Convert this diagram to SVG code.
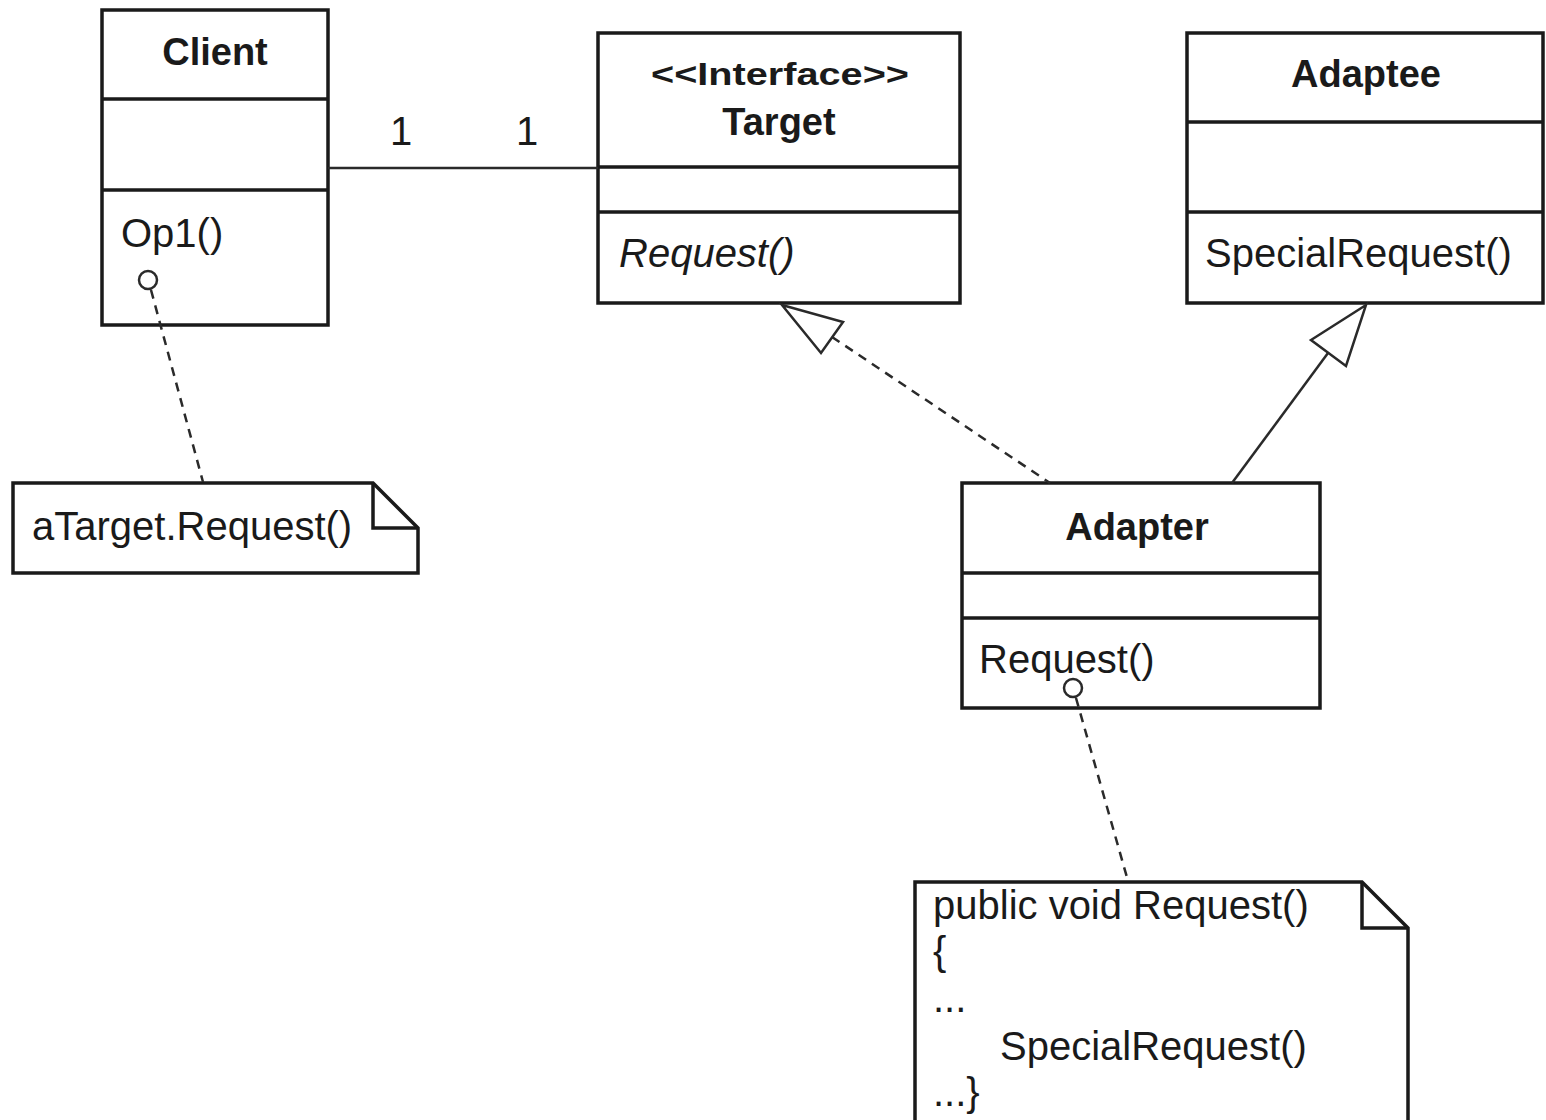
<svg xmlns="http://www.w3.org/2000/svg" width="1546" height="1120" viewBox="0 0 1546 1120">
<style>
.box{fill:#fff;stroke:#1a1a1a;stroke-width:3.5}
.ln{stroke:#1a1a1a;stroke-width:3.5;fill:none}
.t{font-family:"Liberation Sans",Arial,sans-serif;font-size:40px;fill:#1a1a1a}
.b{font-weight:bold;text-anchor:middle;font-size:38px}
.i{font-style:italic}
.c{stroke:#2a2a2a;stroke-width:2.5;fill:none}
.d{stroke-dasharray:9 7}
.pin{fill:#fff;stroke:#2a2a2a;stroke-width:2.5}
.tri{fill:#fff;stroke:#2a2a2a;stroke-width:2.5}
</style>
<rect width="1546" height="1120" fill="#fff"/>
<g id="client">
<rect class="box" x="102" y="10" width="226" height="315"/>
<line class="ln" x1="102" y1="99" x2="328" y2="99"/>
<line class="ln" x1="102" y1="190" x2="328" y2="190"/>
<text class="t b" x="215" y="65">Client</text>
<text class="t" x="121" y="247">Op1()</text>
</g>
<g id="target">
<rect class="box" x="598" y="33" width="362" height="270"/>
<line class="ln" x1="598" y1="167" x2="960" y2="167"/>
<line class="ln" x1="598" y1="212" x2="960" y2="212"/>
<text class="t b" x="780" y="85" style="font-size:32px" textLength="258" lengthAdjust="spacingAndGlyphs">&lt;&lt;Interface&gt;&gt;</text>
<text class="t b" x="779" y="135">Target</text>
<text class="t i" x="619" y="267">Request()</text>
</g>
<g id="adaptee">
<rect class="box" x="1187" y="33" width="356" height="270"/>
<line class="ln" x1="1187" y1="122" x2="1543" y2="122"/>
<line class="ln" x1="1187" y1="212" x2="1543" y2="212"/>
<text class="t b" x="1366" y="87">Adaptee</text>
<text class="t" x="1205" y="267">SpecialRequest()</text>
</g>
<g id="adapter">
<rect class="box" x="962" y="483" width="358" height="225"/>
<line class="ln" x1="962" y1="573" x2="1320" y2="573"/>
<line class="ln" x1="962" y1="618" x2="1320" y2="618"/>
<text class="t b" x="1137" y="540">Adapter</text>
<text class="t" x="979" y="673">Request()</text>
</g>
<g id="note1">
<path class="box" d="M13,483 H373 L418,528 V573 H13 Z"/>
<path class="ln" d="M373,483 V528 H418"/>
<text class="t" x="32" y="540">aTarget.Request()</text>
</g>
<g id="note2">
<path class="box" d="M915,882 H1362 L1408,928 V1130 H915 Z"/>
<path class="ln" d="M1362,882 V928 H1408"/>
<text class="t" x="933" y="919">public void Request()</text>
<text class="t" x="933" y="965">{</text>
<text class="t" x="933" y="1012">...</text>
<text class="t" x="1000" y="1060">SpecialRequest()</text>
<text class="t" x="933" y="1106">...}</text>
</g>
<g id="connectors">
<line class="c" x1="328" y1="168" x2="598" y2="168"/>
<text class="t" x="390" y="145">1</text>
<text class="t" x="516" y="145">1</text>
<line class="c d" x1="151" y1="290" x2="203" y2="482"/>
<circle class="pin" cx="148" cy="280" r="9"/>
<line class="c d" x1="1076" y1="698" x2="1128" y2="881"/>
<circle class="pin" cx="1073" cy="688" r="9"/>
<line class="c d" x1="832" y1="337" x2="1050" y2="483"/>
<polygon class="tri" points="782,305 843,322 821,353"/>
<line class="c" x1="1328" y1="353" x2="1232" y2="483"/>
<polygon class="tri" points="1366,305 1311,340 1346,366"/>
</g>
</svg>
